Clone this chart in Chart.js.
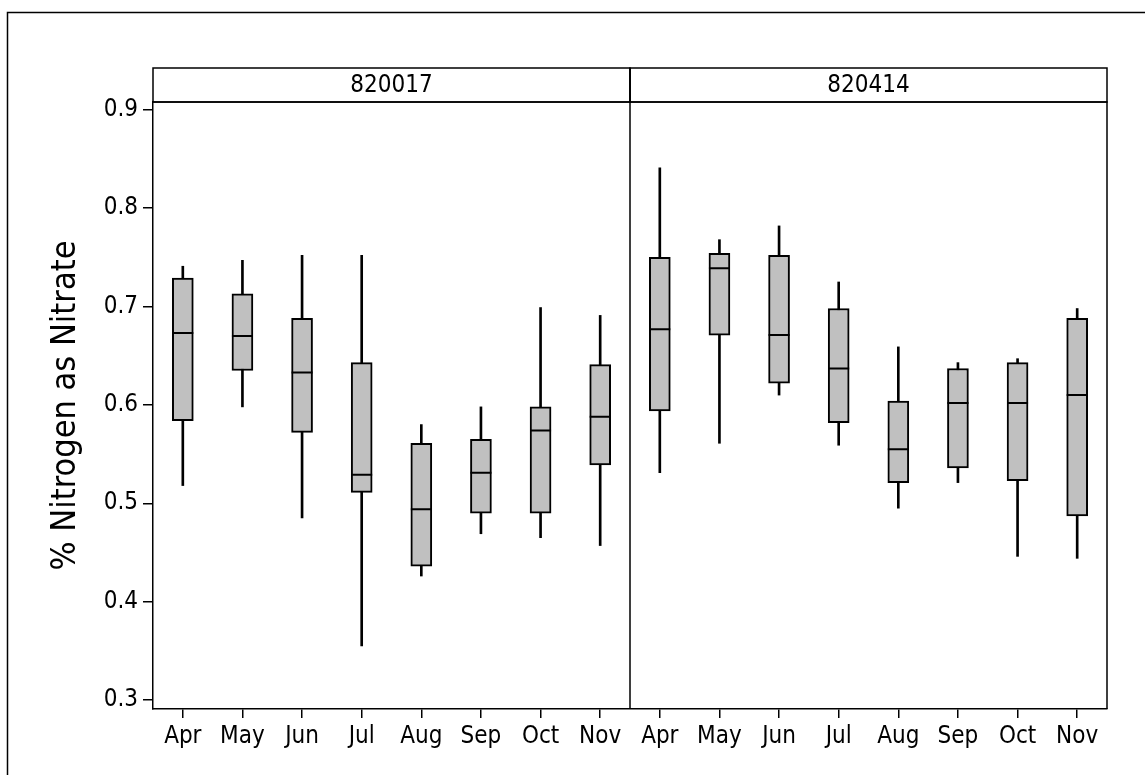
<!DOCTYPE html>
<html>
<head>
<meta charset="utf-8">
<script src="https://cdn.jsdelivr.net/npm/chart.js@4.4.1/dist/chart.umd.min.js"></script>
<style>
  html, body { margin: 0; padding: 0; background: #fff; }
  canvas { display: block; }
</style>
</head>
<body>
<canvas id="c" width="1145" height="775"></canvas>
<script>
// categories
const months = ['Apr', 'May', 'Jun', 'Jul', 'Aug', 'Sep', 'Oct', 'Nov'];
const stations = ['820017', '820414'];
const yTicks = [0.3, 0.4, 0.5, 0.6, 0.7, 0.8, 0.9];

// station 820017 : whisker low, Q1, median, Q3, whisker high
const low1 = [0.518, 0.598, 0.485, 0.355, 0.426, 0.469, 0.465, 0.457];
const q1s1 = [0.584, 0.635, 0.572, 0.511, 0.436, 0.490, 0.490, 0.539];
const med1 = [0.673, 0.670, 0.633, 0.529, 0.494, 0.531, 0.574, 0.588];
const q3s1 = [0.729, 0.713, 0.688, 0.643, 0.561, 0.565, 0.598, 0.641];
const high1 = [0.741, 0.747, 0.752, 0.752, 0.580, 0.598, 0.699, 0.691];

// station 820414
const low2 = [0.531, 0.561, 0.610, 0.559, 0.495, 0.521, 0.446, 0.444];
const q1s2 = [0.594, 0.671, 0.622, 0.582, 0.521, 0.536, 0.523, 0.487];
const med2 = [0.677, 0.739, 0.671, 0.637, 0.555, 0.602, 0.602, 0.610];
const q3s2 = [0.750, 0.754, 0.752, 0.698, 0.604, 0.637, 0.643, 0.688];
const high2 = [0.841, 0.768, 0.782, 0.725, 0.659, 0.643, 0.647, 0.698];

const FONT = "'DejaVu Sans Condensed', 'DejaVu Sans', sans-serif";
Chart.defaults.font.family = FONT;
Chart.defaults.color = '#000';

const labels = months.concat(months);
const lows = low1.concat(low2);
const highs = high1.concat(high2);
const q1s = q1s1.concat(q1s2);
const q3s = q3s1.concat(q3s2);
const meds = med1.concat(med2);

// panel frames, divider and strip headers
const panelPlugin = {
  id: 'panels',
  afterDraw(chart) {
    const { ctx, chartArea: { left, right, top, bottom }, scales: { x } } = chart;
    const divX = (x.getPixelForValue(months.length - 1) + x.getPixelForValue(months.length)) / 2;
    const headTop = 68;
    ctx.save();
    ctx.strokeStyle = '#000';
    ctx.lineWidth = 1.5;
    // outer graph frame
    ctx.beginPath();
    ctx.moveTo(7.5, 775);
    ctx.lineTo(7.5, 12.5);
    ctx.lineTo(1145, 12.5);
    ctx.stroke();
    // panel box
    ctx.beginPath();
    ctx.moveTo(left, top);
    ctx.lineTo(right, top);
    ctx.lineTo(right, bottom);
    ctx.moveTo(divX, headTop);
    ctx.lineTo(divX, bottom);
    ctx.stroke();
    // headers
    const edges = [[left, divX], [divX, right]];
    ctx.font = '24px ' + FONT;
    ctx.fillStyle = '#000';
    ctx.textAlign = 'center';
    ctx.textBaseline = 'middle';
    edges.forEach(([x0, x1], i) => {
      ctx.strokeRect(x0, headTop, x1 - x0, top - headTop);
      ctx.fillText(stations[i], (x0 + x1) / 2, (headTop + top) / 2 + 1);
    });
    ctx.restore();
  }
};

new Chart(document.getElementById('c'), {
  data: {
    labels,
    datasets: [
      {
        type: 'line',
        label: 'median',
        data: meds,
        showLine: false,
        pointStyle: 'line',
        pointRadius: 10.5,
        pointHoverRadius: 10.5,
        pointBorderWidth: 2,
        pointBorderColor: '#000',
        order: 0,
      },
      {
        type: 'bar',
        label: 'box',
        data: q1s.map((v, i) => [v, q3s[i]]),
        backgroundColor: '#c0c0c0',
        borderColor: '#000',
        borderWidth: 2,
        borderSkipped: false,
        barThickness: 21,
        grouped: false,
        order: 1,
      },
      {
        type: 'bar',
        label: 'whisker',
        data: lows.map((v, i) => [v, highs[i]]),
        backgroundColor: '#000',
        borderWidth: 0,
        barThickness: 2,
        grouped: false,
        order: 2,
      },
    ]
  },
  options: {
    responsive: false,
    animation: false,
    events: [],
    layout: { padding: { top: 102, right: 38, bottom: 0, left: 0 } },
    plugins: {
      legend: { display: false },
      tooltip: { enabled: false },
    },
    scales: {
      x: {
        type: 'category',
        offset: true,
        grid: { drawOnChartArea: false, offset: false, tickLength: 9, color: '#000', lineWidth: 1.5 },
        border: { display: true, color: '#000', width: 1.5 },
        ticks: { autoSkip: false, maxRotation: 0, padding: 4, color: '#000', font: { size: 24 } },
        afterFit(s) { s.height = 66; },
      },
      y: {
        min: 0.2908,
        max: 0.908,
        grid: { drawOnChartArea: false, tickLength: 10, color: '#000', lineWidth: 1.5 },
        border: { display: true, color: '#000', width: 1.5 },
        ticks: {
          padding: 5,
          color: '#000',
          font: { size: 24 },
          callback: v => v.toFixed(1),
        },
        afterBuildTicks(s) { s.ticks = yTicks.map(v => ({ value: v })); },
        title: {
          display: true,
          text: '% Nitrogen as Nitrate',
          color: '#000',
          font: { size: 34 },
          padding: { top: 46, bottom: 0 },
        },
        afterFit(s) { s.width = 153; },
      }
    }
  },
  plugins: [panelPlugin]
});
</script>
</body>
</html>
